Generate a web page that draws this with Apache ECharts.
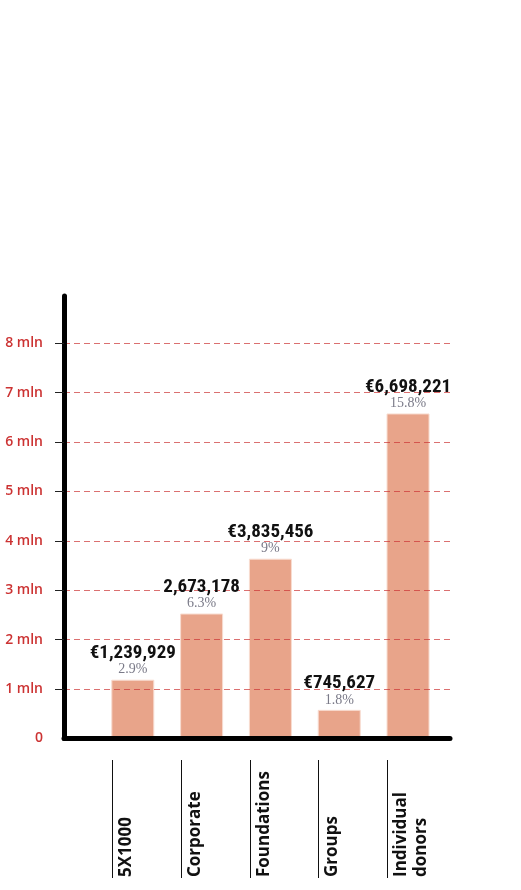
<!DOCTYPE html>
<html>
<head>
<meta charset="utf-8">
<script src="https://cdn.jsdelivr.net/npm/echarts@6/dist/echarts.min.js"></script>
<style>
  html, body { margin: 0; padding: 0; background: #fff; }
  #chart { width: 521px; height: 890px; }
</style>
</head>
<body>
<div id="chart"></div>
<script>
// funding sources (bar heights in mln)
const categories = ['5X1000', 'Corporate', 'Foundations', 'Groups', 'Individual\ndonors']
const barValues = [1.19, 2.53, 3.64, 0.58, 6.58]
const amountLabels = ['€1,239,929', '2,673,178', '€3,835,456', '€745,627', '€6,698,221']
const shareLabels = ['2.9%', '6.3%', '9%', '1.8%', '15.8%']
const yTickLabels = ['0', '1 mln', '2 mln', '3 mln', '4 mln', '5 mln', '6 mln', '7 mln', '8 mln']
const yTickValues = [1, 2, 3, 4, 5, 6, 7, 8]

const chart = echarts.init(document.getElementById('chart'))

const barData = barValues.map((v, i) => [i, v])

const option = {
  animation: false,
  grid: [
    { left: 64, right: 71, top: 295.9, bottom: 151.5 },
    { left: 112, right: 133.5, top: 760, bottom: 12 }
  ],
  xAxis: [
    {
      type: 'value',
      gridIndex: 0,
      min: -1,
      max: 4.61,
      z: 3,
      axisLine: { show: true, onZero: false, lineStyle: { color: '#000', width: 5 } },
      axisTick: { show: false },
      axisLabel: { show: false },
      splitLine: { show: false }
    },
    {
      type: 'category',
      gridIndex: 1,
      data: categories,
      boundaryGap: false,
      axisLine: { show: false },
      axisTick: { show: true, inside: true, length: 118, lineStyle: { color: '#111', width: 1 } },
      axisLabel: {
        interval: 0,
        inside: true,
        rotate: 90,
        margin: 1,
        align: 'left',
        verticalAlign: 'top',
        padding: [4, 0, 0, 0],
        lineHeight: 20,
        fontFamily: '"Open Sans", sans-serif',
        fontWeight: 'bold',
        fontSize: 17,
        color: '#111'
      }
    }
  ],
  yAxis: [
    {
      type: 'value',
      gridIndex: 0,
      min: 0,
      max: 8.96,
      interval: 1,
      z: 3,
      axisLine: { show: true, onZero: false, lineStyle: { color: '#000', width: 5 } },
      axisTick: { show: true, length: 9, customValues: yTickValues, lineStyle: { color: '#222', width: 1 } },
      axisLabel: {
        margin: 21,
        fontFamily: '"Open Sans", sans-serif',
        fontWeight: 600,
        fontSize: 14,
        color: '#cc3333',
        formatter: v => yTickLabels[v] ?? ''
      },
      splitLine: {
        show: true,
        lineStyle: { color: 'rgba(204,51,51,0.7)', type: [6, 4], width: 1 }
      }
    },
    { type: 'value', gridIndex: 1, show: false }
  ],
  series: [
    {
      type: 'bar',
      xAxisIndex: 0,
      yAxisIndex: 0,
      barWidth: 43,
      z: 2,
      itemStyle: { color: '#e8a48a', borderColor: '#f8dcd0', borderWidth: 1 },
      data: barData
    },
    {
      // label overlay so the amounts sit above the dashed grid
      type: 'bar',
      xAxisIndex: 0,
      yAxisIndex: 0,
      barWidth: 43,
      barGap: '-100%',
      z: 5,
      silent: true,
      itemStyle: { color: 'rgba(0,0,0,0)' },
      label: {
        show: true,
        position: 'top',
        distance: 3,
        formatter: p => '{v|' + amountLabels[p.dataIndex] + '}\n{p|' + shareLabels[p.dataIndex] + '}',
        rich: {
          v: {
            fontFamily: '"Liberation Sans Narrow", "Roboto Condensed", "DejaVu Sans Condensed", sans-serif',
            fontWeight: 'bold',
            fontSize: 19,
            lineHeight: 19,
            color: '#111',
            align: 'center'
          },
          p: {
            fontFamily: '"Liberation Serif", serif',
            fontSize: 14,
            lineHeight: 14,
            color: '#7a7a88',
            align: 'center'
          }
        }
      },
      data: barData
    }
  ]
}

chart.setOption(option)
</script>
</body>
</html>
